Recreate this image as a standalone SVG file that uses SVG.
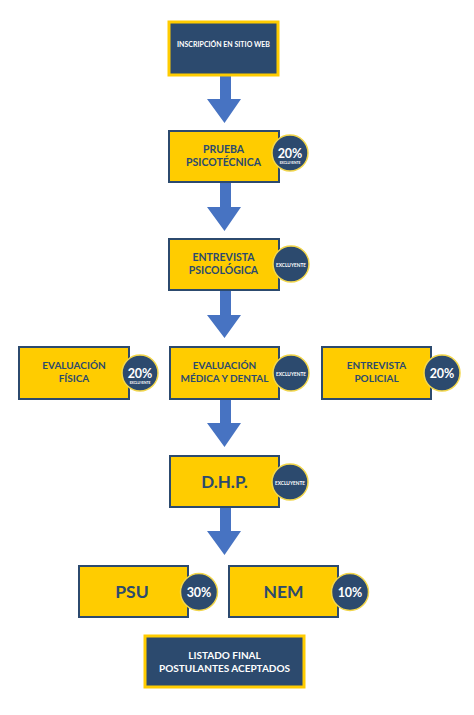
<svg xmlns="http://www.w3.org/2000/svg" width="474" height="715" viewBox="0 0 474 715">
<style>
.bx{fill:#FFCC00;stroke:#2C4A6E;stroke-width:2}
.dk{fill:#2C4A6E;stroke:#FFCC00;stroke-width:3}
.ci{fill:#2C4A6E;stroke:#F2D64B;stroke-width:1.5}
.t{font-family:Lato,"Open Sans","Liberation Sans",sans-serif;font-weight:bold;text-anchor:middle;fill:#2C4A6E}
.w{fill:#FFFFFF}
.ar{fill:#4773C2}
</style>
<rect width="474" height="715" fill="#FFFFFF"/>
<g id="connectors">
<path class="ar" d="M220,76 H231 V99 H241 L224.5,123 L207,99 H220 Z"/>
<path class="ar" d="M220,183 H231 V207 H241 L224.5,231 L207,207 H220 Z"/>
<path class="ar" d="M220,291 H231 V315 H241 L224.5,338 L207,315 H220 Z"/>
<path class="ar" d="M220,400 H231 V423 H241 L224.5,447 L207,423 H220 Z"/>
<path class="ar" d="M220,508 H231 V531 H241 L224.5,555 L207,531 H220 Z"/>
</g>
<g id="n1">
<rect class="dk" x="169" y="22" width="109" height="53"/>
<text class="t w" x="223.5" y="46.5" font-size="7">INSCRIPCIÓN EN SITIO WEB</text>
</g>
<g id="n2">
<rect class="bx" x="169" y="131" width="110" height="51"/>
<text class="t" x="223.5" y="153" font-size="10.5">PRUEBA</text>
<text class="t" x="223.5" y="166" font-size="10.5">PSICOTÉCNICA</text>
<circle class="ci" cx="290" cy="153" r="18"/>
<text class="t w" x="290" y="157.5" font-size="12.5">20%</text>
<text class="t w" x="290" y="164" font-size="3.3">EXCLUYENTE</text>
</g>
<g id="n3">
<rect class="bx" x="169" y="239" width="110" height="51"/>
<text class="t" x="223.5" y="261" font-size="10.5">ENTREVISTA</text>
<text class="t" x="223.5" y="273.5" font-size="10.5">PSICOLÓGICA</text>
<circle class="ci" cx="291" cy="264" r="18"/>
<text class="t w" x="291" y="266.5" font-size="4.8">EXCLUYENTE</text>
</g>
<g id="n4">
<rect class="bx" x="19" y="347" width="110" height="52"/>
<text class="t" x="74" y="369" font-size="10">EVALUACIÓN</text>
<text class="t" x="74" y="382" font-size="10">FÍSICA</text>
<circle class="ci" cx="140" cy="373" r="18"/>
<text class="t w" x="140" y="377.5" font-size="12.5">20%</text>
<text class="t w" x="140" y="384" font-size="3.3">EXCLUYENTE</text>
</g>
<g id="n5">
<rect class="bx" x="170" y="347" width="109" height="52"/>
<text class="t" x="224.5" y="369" font-size="10">EVALUACIÓN</text>
<text class="t" x="224.5" y="382" font-size="10">MÉDICA Y DENTAL</text>
<circle class="ci" cx="291" cy="373" r="18"/>
<text class="t w" x="291" y="375.5" font-size="4.8">EXCLUYENTE</text>
</g>
<g id="n6">
<rect class="bx" x="322" y="347" width="109" height="52"/>
<text class="t" x="376.5" y="369" font-size="10">ENTREVISTA</text>
<text class="t" x="376.5" y="382" font-size="10">POLICIAL</text>
<circle class="ci" cx="442" cy="373" r="18"/>
<text class="t w" x="442" y="377.5" font-size="12.5">20%</text>
</g>
<g id="n7">
<rect class="bx" x="170" y="456" width="109" height="51"/>
<text class="t" x="224.5" y="487.5" font-size="17">D.H.P.</text>
<circle class="ci" cx="290" cy="482" r="18"/>
<text class="t w" x="290" y="484.5" font-size="4.8">EXCLUYENTE</text>
</g>
<g id="n8">
<rect class="bx" x="79" y="566" width="109" height="51"/>
<text class="t" x="132" y="598" font-size="17.5">PSU</text>
<circle class="ci" cx="199" cy="592" r="18.5"/>
<text class="t w" x="199" y="596.5" font-size="12.5">30%</text>
</g>
<g id="n9">
<rect class="bx" x="229" y="566" width="109" height="51"/>
<text class="t" x="283.5" y="598" font-size="17.5">NEM</text>
<circle class="ci" cx="350" cy="592" r="18.5"/>
<text class="t w" x="350" y="596.5" font-size="12.5">10%</text>
</g>
<g id="n10">
<rect class="dk" x="145" y="636" width="159" height="51"/>
<text class="t w" x="224.5" y="659" font-size="10">LISTADO FINAL</text>
<text class="t w" x="224.5" y="672" font-size="10">POSTULANTES ACEPTADOS</text>
</g>
</svg>
